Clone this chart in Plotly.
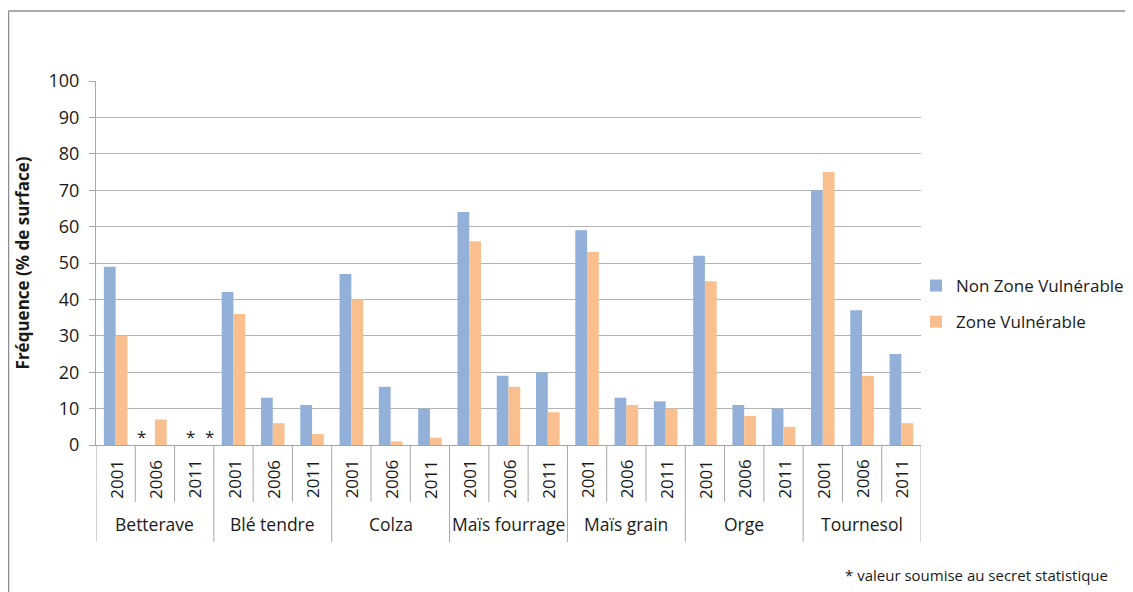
import plotly.graph_objects as go

crops = ["Betterave", "Blé tendre", "Colza", "Maïs fourrage", "Maïs grain", "Orge", "Tournesol"]
years = ["2001", "2006", "2011"]
non_zv = [49, None, None, 42, 13, 11, 47, 16, 10, 64, 19, 20, 59, 13, 12, 52, 11, 10, 70, 37, 25]
zv = [30, 7, None, 36, 6, 3, 40, 1, 2, 56, 16, 9, 53, 11, 10, 45, 8, 5, 75, 19, 6]
secret = [("Betterave", "2006"), ("Betterave", "2011"), ("Betterave", "2011")]
yticks = list(range(0, 101, 10))

cats = [f"{c}|{y}" for c in crops for y in years]
FONT = "Open Sans"
TXT = "#1a1a1a"
blue = "#93B1D8"
orange = "#F9BF8F"
OFF = 8  # page body margin
W, H = 1133 - OFF, 592 - OFF
PW, PH, L, T = 825, 364, 96 - OFF, 81 - OFF
star_shift = [-13, -3.5, 15.5]  # pixel offsets of the "*" marks from the category centre


def px(xs):
    return (xs - OFF - L) / PW


def py(ys):
    return (T + PH - (ys - OFF)) / PH


fig = go.Figure()
fig.add_trace(go.Bar(x=cats, y=non_zv, name="Non Zone Vulnérable", legendgroup="a",
                     marker=dict(color=blue, line=dict(width=0))))
fig.add_trace(go.Bar(x=cats, y=zv, name="Zone Vulnérable", legendgroup="b",
                     marker=dict(color=orange, line=dict(width=0))))

annotations = []
shapes = []
n = len(cats)
for i, cat in enumerate(cats):
    yr = cat.split("|")[1]
    annotations.append(dict(x=cat, y=0, xref="x", yref="y", text=yr, textangle=-90, showarrow=False,
                            yshift=-34, font=dict(size=17, color=TXT, family=FONT)))
for g, crop in enumerate(crops):
    annotations.append(dict(x=g * 3 + 1, y=0, xref="x", yref="y", text=crop, showarrow=False,
                            yshift=-79, font=dict(size=17.5, color=TXT, family=FONT)))
for k in range(n + 1):
    long = (k % 3 == 0)
    shapes.append(dict(type="line", xref="x", yref="paper", x0=k - 0.5, x1=k - 0.5,
                       y0=0, y1=(-97 if long else -57) / PH, line=dict(color="#A6A6A6", width=1)))
for (crop, yr), sh in zip(secret, star_shift):
    annotations.append(dict(x=f"{crop}|{yr}", y=0, xref="x", yref="y", text="*", showarrow=False,
                            xshift=sh, yshift=9, font=dict(size=17, color=TXT, family=FONT)))
annotations.append(dict(x=px(1110), y=py(575), xref="paper", yref="paper",
                        text="* valeur soumise au secret statistique", showarrow=False,
                        xanchor="right", yanchor="middle",
                        font=dict(size=15, color=TXT, family=FONT)))
shapes.append(dict(type="line", xref="paper", yref="paper", x0=px(8.5), x1=px(1140),
                   y0=py(11), y1=py(11), line=dict(color="#8C8C8C", width=1.5)))
shapes.append(dict(type="line", xref="paper", yref="paper", x0=px(8.5), x1=px(8.5),
                   y0=py(11), y1=py(600), line=dict(color="#8C8C8C", width=1.5)))

fig.update_layout(
    width=W, height=H,
    margin=dict(l=L, r=W - L - PW, t=T, b=H - T - PH, autoexpand=False),
    paper_bgcolor="white", plot_bgcolor="white",
    barmode="group", bargap=0.4, bargroupgap=0,
    font=dict(family=FONT, size=17, color=TXT),
    showlegend=True,
    legend=dict(x=px(916), y=py(304), xanchor="left", yanchor="middle",
                font=dict(size=17, family=FONT, color=TXT), itemwidth=30,
                traceorder="grouped", tracegroupgap=11,
                bgcolor="rgba(0,0,0,0)"),
    annotations=annotations,
    shapes=shapes,
    xaxis=dict(type="category", showticklabels=False, showgrid=False, showline=True,
               linecolor="#A6A6A6", linewidth=1, ticks="", range=[-0.5, n - 0.5], fixedrange=True),
    yaxis=dict(range=[0, 100], tickvals=yticks, showgrid=True, gridcolor="#B3B3B3", gridwidth=1,
               showline=True, linecolor="#A6A6A6", linewidth=1, ticks="outside", ticklen=6,
               tickcolor="#A6A6A6", tickfont=dict(size=18, family=FONT, color=TXT),
               ticklabelstandoff=6, zeroline=False,
               title=dict(text="<b>Fréquence (% de surface)</b>", font=dict(size=17, family=FONT, color=TXT), standoff=14)),
)
fig.write_html("out.html")
